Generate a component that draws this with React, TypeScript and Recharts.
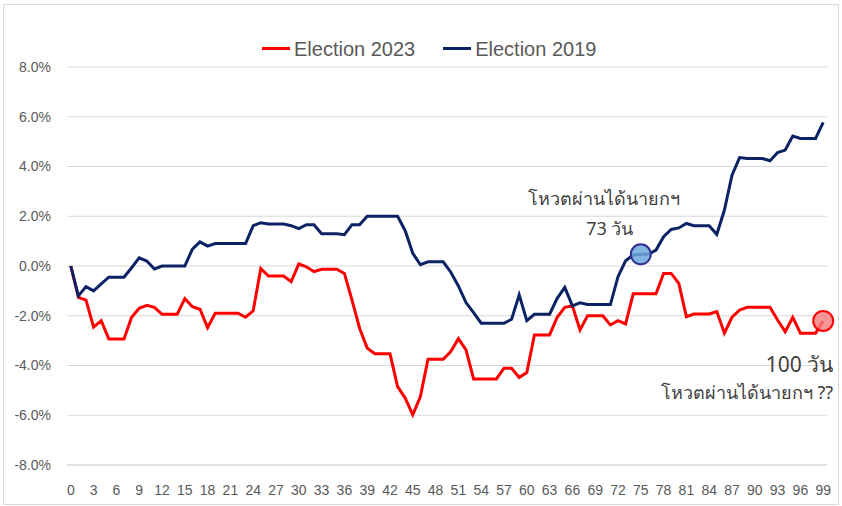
import {
  LineChart,
  Line,
  XAxis,
  YAxis,
  CartesianGrid,
  ReferenceDot,
} from "recharts";

// day index 0..99 since election
const days = Array.from({ length: 100 }, (_, i) => i);

// cumulative change, % (Election 2023)
const election2023 = [
  0, -1.26, -1.37, -2.46, -2.2, -2.93, -2.93, -2.93, -2.06, -1.7,
  -1.58, -1.66, -1.94, -1.94, -1.94, -1.31, -1.64, -1.74, -2.48, -1.9,
  -1.9, -1.9, -1.9, -2.06, -1.8, -0.1, -0.4, -0.4, -0.4, -0.63,
  0.08, -0.03, -0.23, -0.13, -0.13, -0.13, -0.3, -1.37, -2.5, -3.3,
  -3.53, -3.53, -3.53, -4.85, -5.31, -5.98, -5.25, -3.75, -3.75, -3.75,
  -3.44, -2.92, -3.37, -4.54, -4.54, -4.54, -4.54, -4.11, -4.11, -4.48,
  -4.28, -2.77, -2.77, -2.77, -2.06, -1.66, -1.6, -2.57, -2.0, -2.0,
  -2.0, -2.37, -2.2, -2.33, -1.12, -1.12, -1.12, -1.12, -0.3, -0.3,
  -0.7, -2.04, -1.93, -1.93, -1.93, -1.83, -2.7, -2.06, -1.77, -1.66,
  -1.66, -1.66, -1.66, -2.17, -2.64, -2.06, -2.7, -2.7, -2.7, -2.21,
];

// cumulative change, % (Election 2019)
const election2019 = [
  0, -1.2, -0.83, -1.0, -0.72, -0.45, -0.45, -0.45, -0.07, 0.33,
  0.2, -0.12, 0.0, 0.0, 0.0, 0.0, 0.68, 0.97, 0.8, 0.9,
  0.9, 0.9, 0.9, 0.9, 1.62, 1.74, 1.69, 1.69, 1.69, 1.62,
  1.5, 1.66, 1.66, 1.3, 1.3, 1.3, 1.26, 1.66, 1.66, 2.0,
  2.0, 2.0, 2.0, 2.0, 1.42, 0.51, 0.05, 0.17, 0.17, 0.17,
  -0.25, -0.8, -1.47, -1.87, -2.3, -2.3, -2.3, -2.3, -2.14, -1.16,
  -2.2, -1.94, -1.94, -1.94, -1.3, -0.86, -1.6, -1.48, -1.55, -1.55,
  -1.55, -1.55, -0.43, 0.21, 0.44, 0.47, 0.47, 0.64, 1.18, 1.47,
  1.53, 1.71, 1.62, 1.62, 1.62, 1.27, 2.25, 3.65, 4.36, 4.32,
  4.32, 4.32, 4.23, 4.56, 4.66, 5.22, 5.13, 5.13, 5.13, 5.77,
];

const xTicks = [0, 3, 6, 9, 12, 15, 18, 21, 24, 27, 30, 33, 36, 39, 42, 45, 48, 51, 54, 57, 60, 63, 66, 69, 72, 75, 78, 81, 84, 87, 90, 93, 96, 99];
const yTicks = [-8, -6, -4, -2, 0, 2, 4, 6, 8];

const data = days.map((d, i) => ({
  day: d,
  e2023: election2023[i],
  e2019: election2019[i],
}));

const RED = "#ff0000";
const NAVY = "#0b2265";
const THAI_FONT = "'Noto Sans', 'DejaVu Sans', sans-serif";

// centre of the reference dot from its viewBox
const dotCentre = (vb: any) => ({
  x: vb.x + (vb.width ?? 0) / 2,
  y: vb.y + (vb.height ?? 0) / 2,
});

const voteLabel2019 = (props: any) => {
  const { x, y } = dotCentre(props.viewBox);
  return (
    <g fontFamily={THAI_FONT} fontSize={18} fill="#404040">
      <text x={x - 37} y={y - 56} textAnchor="middle" dominantBaseline="central">
        โหวตผ่านได้นายกฯ
      </text>
      <text x={x - 31} y={y - 26} textAnchor="middle" dominantBaseline="central">
        73 วัน
      </text>
    </g>
  );
};

const voteLabel2023 = (props: any) => {
  const { x, y } = dotCentre(props.viewBox);
  return (
    <g fontFamily={THAI_FONT} fill="#404040">
      <text x={x + 10} y={y + 43} fontSize={21} textAnchor="end" dominantBaseline="central">
        100 วัน
      </text>
      <text x={x + 10} y={y + 71} fontSize={18} textAnchor="end" dominantBaseline="central">
        โหวตผ่านได้นายกฯ ??
      </text>
    </g>
  );
};

function LegendItem({ color, label }: { color: string; label: string }) {
  return (
    <span style={{ display: "inline-flex", alignItems: "center", marginRight: 28 }}>
      <span style={{ width: 28, height: 3, background: color, marginRight: 4 }} />
      <span>{label}</span>
    </span>
  );
}

export default function App() {
  return (
    <div
      style={{
        position: "absolute",
        left: 0,
        top: 0,
        width: 842,
        height: 506,
        background: "#fff",
      }}
    >
      <div
        style={{
          position: "absolute",
          left: 3,
          top: 4,
          width: 834,
          height: 499,
          border: "1px solid #d9d9d9",
        }}
      />
      <div
        style={{
          position: "absolute",
          left: 262,
          top: 31,
          fontFamily: "'Liberation Sans', Arial, sans-serif",
          fontSize: 20,
          color: "#595959",
          whiteSpace: "nowrap",
          lineHeight: "24px",
        }}
      >
        <LegendItem color={RED} label="Election 2023" />
        <LegendItem color={NAVY} label="Election 2019" />
      </div>
      <LineChart
        width={842}
        height={506}
        data={data}
        margin={{ top: 67, right: 15, left: 0, bottom: 11 }}
        style={{ position: "absolute", left: 0, top: 0 }}
      >
        <CartesianGrid vertical={false} stroke="#d9d9d9" strokeWidth={1} />
        <XAxis
          dataKey="day"
          type="number"
          domain={[-0.5, 99.5]}
          ticks={xTicks}
          interval={0}
          tickLine={false}
          axisLine={{ stroke: "#d9d9d9" }}
          tick={{
            fontSize: 14,
            fill: "#595959",
            fontFamily: "'Liberation Sans Narrow', 'Liberation Sans', sans-serif",
          }}
          tickMargin={14}
        />
        <YAxis
          type="number"
          domain={[-8, 8]}
          ticks={yTicks}
          width={67}
          axisLine={false}
          tickLine={false}
          tickMargin={10}
          tickFormatter={(v: number) => `${v.toFixed(1)}%`}
          tick={{
            fontSize: 14,
            fill: "#595959",
            fontFamily: "'Liberation Sans', sans-serif",
          }}
        />
        <Line
          type="linear"
          dataKey="e2023"
          stroke={RED}
          strokeWidth={3}
          dot={false}
          isAnimationActive={false}
        />
        <Line
          type="linear"
          dataKey="e2019"
          stroke={NAVY}
          strokeWidth={3}
          dot={false}
          isAnimationActive={false}
        />
        <ReferenceDot
          x={75}
          y={election2019[75]}
          r={10}
          fill="#6fa8dc"
          fillOpacity={0.85}
          stroke="#2e3192"
          strokeWidth={2}
          label={voteLabel2019}
        />
        <ReferenceDot
          x={99}
          y={election2023[99]}
          r={10}
          fill="#f47c7c"
          fillOpacity={0.8}
          stroke={RED}
          strokeWidth={2}
          label={voteLabel2023}
        />
      </LineChart>
    </div>
  );
}
